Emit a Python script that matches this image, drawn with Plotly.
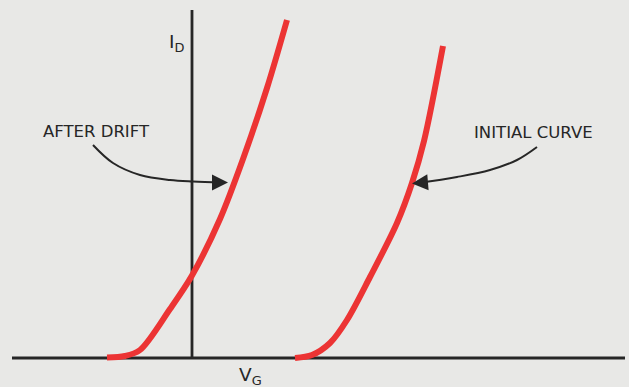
import plotly.graph_objects as go

# Drain current vs gate voltage, arbitrary units (V_G horizontal, I_D vertical)
after_vg = [-8.5, -6.7, -5.2, -2.2, 0.0, 2.8, 5.1, 7.5, 9.5]
after_id = [0.05, 0.2, 0.8, 4.9, 8.25, 13.9, 19.9, 27.0, 33.8]

initial_vg = [10.3, 12.0, 13.8, 15.5, 17.8, 20.5, 22.0, 23.2, 25.1]
initial_id = [0.0, 0.3, 1.5, 3.8, 8.1, 13.5, 17.5, 21.7, 31.2]

# Axis extents
vg_axis = [-18.0, 43.3]
id_axis = [0.0, 34.8]

# Leader arrows pointing from the labels to the curves
after_arrow_vg = [-9.9, -7.9, -5.2, -2.2, 0.1, 3.0]
after_arrow_id = [21.3, 19.5, 18.3, 17.8, 17.65, 17.55]
initial_arrow_vg = [34.5, 32.5, 29.8, 26.5, 22.6]
initial_arrow_id = [21.1, 19.8, 18.8, 18.1, 17.5]
after_tip = (3.6, 17.55)
initial_tip = (22.0, 17.45)

labels = [
    ("AFTER DRIFT", -9.6, 22.65, 16.5),
    ("INITIAL CURVE", 34.15, 22.6, 16.5),
    ("I<sub>D</sub>", -1.6, 31.5, 18.5),
    ("V<sub>G</sub>", 5.8, -1.8, 18.5),
]

RED = "#ec3434"
INK = "#262626"
PAPER = "#e8e8e6"
FAMILY = "DejaVu Sans, Liberation Sans, sans-serif"

fig = go.Figure()

# Axes
fig.add_trace(go.Scatter(x=vg_axis, y=[0, 0], mode="lines",
                         line=dict(color=INK, width=2.8), hoverinfo="skip"))
fig.add_trace(go.Scatter(x=[0, 0], y=id_axis, mode="lines",
                         line=dict(color=INK, width=2.8), hoverinfo="skip"))

# Transfer curves
for vg, i_d in ((after_vg, after_id), (initial_vg, initial_id)):
    fig.add_trace(go.Scatter(x=vg, y=i_d, mode="lines",
                             line=dict(color=RED, width=6, shape="spline", smoothing=0.9),
                             hoverinfo="skip"))

# Leader curves
for vg, i_d in ((after_arrow_vg, after_arrow_id), (initial_arrow_vg, initial_arrow_id)):
    fig.add_trace(go.Scatter(x=vg, y=i_d, mode="lines",
                             line=dict(color=INK, width=2, shape="spline", smoothing=1.0),
                             hoverinfo="skip"))

annotations = []
for (tx, ty), vg, i_d in ((after_tip, after_arrow_vg, after_arrow_id),
                          (initial_tip, initial_arrow_vg, initial_arrow_id)):
    annotations.append(dict(x=tx, y=ty, ax=vg[-1], ay=i_d[-1], xref="x", yref="y",
                            axref="x", ayref="y", showarrow=True, arrowhead=2,
                            arrowsize=1.6, arrowwidth=2, arrowcolor=INK, text=""))

for text, x, y, size in labels:
    annotations.append(dict(x=x, y=y, xref="x", yref="y", text=text, showarrow=False,
                            font=dict(family=FAMILY, size=size, color=INK),
                            xanchor="center", yanchor="middle"))

fig.update_layout(
    width=629, height=387,
    margin=dict(l=0, r=0, t=0, b=0),
    paper_bgcolor=PAPER, plot_bgcolor=PAPER,
    showlegend=False,
    xaxis=dict(range=[-19.2, 43.7], visible=False, fixedrange=True),
    yaxis=dict(range=[-2.9, 35.8], visible=False, fixedrange=True),
    annotations=annotations,
)

fig.write_html("out.html")
